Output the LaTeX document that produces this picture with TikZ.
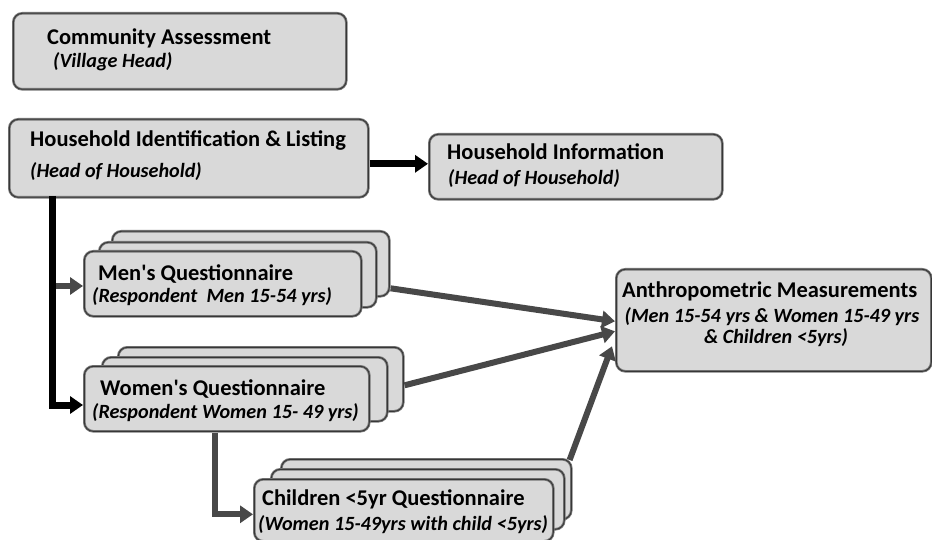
\documentclass[tikz,border=0pt]{standalone}
\usepackage{fontspec}
\setmainfont{Carlito}
\usetikzlibrary{arrows.meta,calc}
\definecolor{boxfill}{RGB}{217,217,217}
\definecolor{boxline}{RGB}{120,120,120}
\definecolor{boxinner}{RGB}{55,55,55}
\definecolor{darkarrow}{RGB}{72,72,72}
\tikzset{
  box/.style={draw=boxline, fill=boxfill, line width=2.6pt, rounded corners=9pt, inner sep=0pt, anchor=north west,
    postaction={draw=boxinner, line width=0.9pt}},
  ttl/.style={anchor=base west, inner sep=0pt, font=\fontsize{22.5}{27}\selectfont\bfseries},
  sub/.style={anchor=base west, inner sep=0pt, font=\fontsize{20.2}{24}\selectfont\bfseries\itshape},
  blackarrow/.style={draw=black, line width=7pt, -{Triangle[length=13pt,width=17pt]}},
  grayarrow/.style={draw=darkarrow, line width=6pt, -{Triangle[length=13pt,width=17pt]}}
}
\begin{document}
\begin{tikzpicture}[x=1pt,y=-1pt]
\useasboundingbox (0,0) rectangle (932,540);
% Community assessment
\node[box, minimum width=333pt, minimum height=76pt] (ca) at (12,12) {};
\node[ttl] (cat) at (47,45) {Community Assessment};
\node[sub] (cas) at (53,68) {(Village Head)};
% Household identification
\node[box, minimum width=359pt, minimum height=78pt] (hh) at (8,118) {};
\node[ttl] (hht) at (30,147) {Household Identification \& Listing};
\node[sub] (hhs) at (30,178) {(Head of Household)};
% Household information
\node[box, minimum width=293pt, minimum height=65pt] (hi) at (428,133) {};
\node[ttl] (hit) at (447,160) {Household Information};
\node[sub] (his) at (448,185) {(Head of Household)};
% Men's questionnaire stack
\node[box, minimum width=277pt, minimum height=65pt] (men3) at (111,230) {};
\node[box, minimum width=277pt, minimum height=65pt] (men2) at (98,241) {};
\node[box, minimum width=277pt, minimum height=65pt] (men1) at (83,250) {};
\node[ttl] (ment) at (98,280) {Men\textquotesingle s Questionnaire};
\node[sub] (mens) at (92,302) {(Respondent\ \ Men 15-54 yrs)};
% Women's questionnaire stack
\node[box, minimum width=285pt, minimum height=64pt] (wom3) at (117,346) {};
\node[box, minimum width=285pt, minimum height=64pt] (wom2) at (101,356) {};
\node[box, minimum width=285pt, minimum height=65pt] (wom1) at (83,365) {};
\node[ttl] (womt) at (100,395) {Women\textquotesingle s Questionnaire};
\node[sub] (woms) at (92,418) {(Respondent Women 15- 49 yrs)};
% Children stack
\node[box, minimum width=290pt, minimum height=60pt] (ch3) at (280,458) {};
\node[box, minimum width=293pt, minimum height=60pt] (ch2) at (270,468) {};
\node[box, minimum width=299pt, minimum height=62pt] (ch1) at (253,478) {};
\node[ttl] (cht) at (262,505) {Children <5yr Questionnaire};
\node[sub] (chs) at (258,530) {(Women 15-49yrs with child <5yrs)};
% Anthropometric
\node[box, minimum width=315pt, minimum height=102pt] (an) at (615,268) {};
\node[ttl] (ant) at (622,298) {Anthropometric Measurements};
\node[sub, anchor=base] (ans1) at (772,322) {(Men 15-54 yrs \& Women 15-49 yrs};
\node[sub, anchor=base] (ans2) at (776,343) {\& Children <5yrs)};
% connectors
\coordinate (trunk) at (52,196);
\coordinate (menin) at (52,286);
\coordinate (womin) at (52,405);
\draw[blackarrow] ([yshift=-5.5pt]hh.east) -- ([yshift=-5.5pt]hi.west |- hh.east);
\draw[grayarrow] (menin) -- (menin -| men1.west);
\draw[blackarrow] (trunk) |- (womin -| wom1.west);
\draw[grayarrow] ([xshift=132pt]wom1.south west) |- ([yshift=-4pt]ch1.west);
\draw[grayarrow] ([yshift=-24.5pt]men3.east) -- ([yshift=-1pt]an.west);
\draw[grayarrow] ([yshift=-6pt]wom3.east) -- ([yshift=-11pt]an.west);
\draw[grayarrow] ([xshift=-3pt,yshift=-2pt]ch3.north east) -- ([xshift=-3pt,yshift=-26pt]an.west);
\end{tikzpicture}
\end{document}
